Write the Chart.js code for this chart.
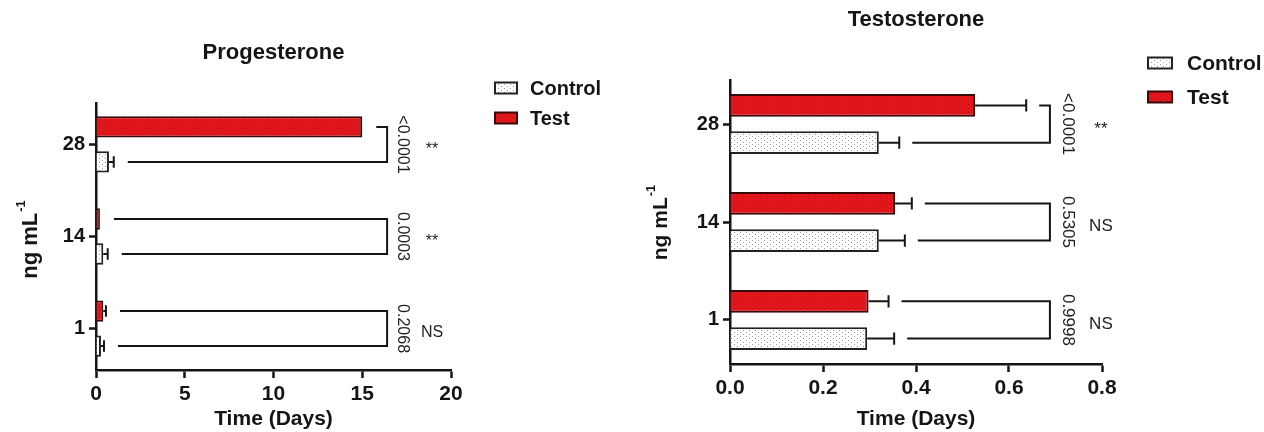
<!DOCTYPE html>
<html>
<head>
<meta charset="utf-8">
<script src="https://cdn.jsdelivr.net/npm/chart.js@4.4.1/dist/chart.umd.min.js"></script>
<style>
    html, body { margin: 0; padding: 0; background: #fff; }
    body { width: 1264px; height: 432px; position: relative; overflow: hidden; }
    .panel { position: absolute; top: 0; width: 632px; height: 432px; }
</style>
</head>
<body>
<div class="panel" style="left:0"><canvas id="grafikProgesteron" width="632" height="432"></canvas></div>
<div class="panel" style="left:632px"><canvas id="grafikTestosteron" width="632" height="432"></canvas></div>
<script>
// Kategori (hari), urut dari bawah ke atas
const days = ['1', '14', '28'];

// Progesterone
const progTest = [0.41, 0.22, 15.0];
const progTestErr = [0.15, 0, 0];
const progControl = [0.28, 0.41, 0.73];
const progControlErr = [0.17, 0.25, 0.27];
const progP = ['0.2068', '0.0003', '<0.0001'];
const progSig = ['NS', '**', '**'];
const progXTicks = [0, 5, 10, 15, 20];

// Testosterone
const testoTest = [0.298, 0.355, 0.527];
const testoTestErr = [0.043, 0.036, 0.11];
const testoControl = [0.295, 0.32, 0.32];
const testoControlErr = [0.058, 0.056, 0.044];
const testoP = ['0.9998', '0.5305', '<0.0001'];
const testoSig = ['NS', 'NS', '**'];
const testoXTicks = [0, 0.2, 0.4, 0.6, 0.8];

const FONT = "'Liberation Sans', Arial, sans-serif";
const INK = '#151515';

function dotPattern(bg, dot, sx, sy) {
    const c = document.createElement('canvas');
    c.width = sx * 2;
    c.height = sy;
    const g = c.getContext('2d');
    g.fillStyle = bg;
    g.fillRect(0, 0, c.width, c.height);
    g.fillStyle = dot;
    g.fillRect(0, 0, 1, 1);
    g.fillRect(sx, Math.floor(sy / 2), 1, 1);
    return g.createPattern(c, 'repeat');
}

const polaTest = dotPattern('#e3161c', '#b30d12', 3, 4);
const polaControl = dotPattern('#ffffff', '#9a9a9a', 3, 4);

// error bar, kurung signifikansi, legend dan judul sumbu y
function anotasi(cfg) {
    return {
        id: 'anotasi',
        afterDatasetsDraw(chart) {
            const ctx = chart.ctx;
            const xs = chart.scales.x;
            const errs = [cfg.testErr, cfg.controlErr];
            const ends = [[], []];
            const mid = [[], []];

            ctx.save();
            ctx.strokeStyle = INK;
            ctx.lineWidth = 2;
            chart.data.datasets.forEach((ds, di) => {
                const meta = chart.getDatasetMeta(di);
                meta.data.forEach((bar, i) => {
                    const v = ds.data[i].x;
                    const xe = xs.getPixelForValue(v + errs[di][i]);
                    ends[di][i] = Math.max(xe, bar.x);
                    mid[di][i] = bar.y;
                    if (errs[di][i] > 0) {
                        const h = bar.height * 0.27;
                        ctx.beginPath();
                        ctx.moveTo(bar.x, bar.y);
                        ctx.lineTo(xe, bar.y);
                        ctx.moveTo(xe, bar.y - h);
                        ctx.lineTo(xe, bar.y + h);
                        ctx.stroke();
                    }
                });
            });

            const xb = xs.getPixelForValue(cfg.bracketAt);
            days.forEach((d, i) => {
                const yTop = mid[0][i];
                const yBot = mid[1][i];
                ctx.beginPath();
                ctx.moveTo(ends[0][i] + cfg.gap, yTop);
                ctx.lineTo(xb, yTop);
                ctx.lineTo(xb, yBot);
                ctx.lineTo(ends[1][i] + cfg.gap, yBot);
                ctx.stroke();

                const yc = (yTop + yBot) / 2;
                ctx.fillStyle = '#222';
                ctx.save();
                ctx.translate(xb + cfg.pDx, yc);
                ctx.rotate(Math.PI / 2);
                ctx.font = cfg.pFont + 'px ' + FONT;
                ctx.textAlign = 'center';
                ctx.textBaseline = 'middle';
                ctx.fillText(cfg.pValues[i], 0, 0);
                ctx.restore();

                const s = cfg.sig[i];
                ctx.font = cfg.pFont + 'px ' + FONT;
                ctx.textAlign = 'center';
                ctx.textBaseline = 'middle';
                ctx.fillText(s, xb + cfg.sigDx, yc + (s === 'NS' ? 4 : 5));
            });
            ctx.restore();
        },
        afterDraw(chart) {
            const ctx = chart.ctx;
            const lg = cfg.legend;
            ctx.save();
            // legend: Control dulu, lalu Test
            const items = chart.data.datasets.slice().reverse();
            items.forEach((ds, k) => {
                const cy = lg.y + k * lg.row;
                ctx.fillStyle = ds.backgroundColor;
                ctx.fillRect(lg.x, cy - lg.h / 2, lg.w, lg.h);
                ctx.strokeStyle = ds.borderColor;
                ctx.lineWidth = 2;
                ctx.strokeRect(lg.x, cy - lg.h / 2, lg.w, lg.h);
                ctx.fillStyle = INK;
                ctx.font = 'bold ' + lg.font + 'px ' + FONT;
                ctx.textAlign = 'left';
                ctx.textBaseline = 'middle';
                ctx.fillText(ds.label, lg.textX, cy + 1);
            });

            // judul sumbu y dengan pangkat -1
            const yt = cfg.yTitle;
            ctx.translate(yt.x, yt.y);
            ctx.rotate(-Math.PI / 2);
            ctx.font = 'bold ' + yt.size + 'px ' + FONT;
            const w1 = ctx.measureText('ng mL').width;
            ctx.font = 'bold ' + Math.round(yt.size * 0.6) + 'px ' + FONT;
            const w2 = ctx.measureText('-1').width;
            const x0 = -(w1 + w2) / 2;
            ctx.textAlign = 'left';
            ctx.textBaseline = 'middle';
            ctx.fillStyle = INK;
            ctx.font = 'bold ' + yt.size + 'px ' + FONT;
            ctx.fillText('ng mL', x0, 0);
            ctx.font = 'bold ' + Math.round(yt.size * 0.6) + 'px ' + FONT;
            ctx.fillText('-1', x0 + w1 + 1, -yt.size * 0.45);
            ctx.restore();
        }
    };
}

function renderGrafik(canvasId, cfg) {
    const canvas = document.getElementById(canvasId);
    if (!canvas) return;
    const ctx = canvas.getContext('2d');

    new Chart(ctx, {
        type: 'bar',
        data: {
            datasets: [{
                label: 'Test',
                data: cfg.test.map((v, i) => ({ x: v, y: i })),
                backgroundColor: polaTest,
                borderColor: '#3a0808',
                borderWidth: 2,
                categoryPercentage: 0.76,
                barPercentage: 0.61
            }, {
                label: 'Control',
                data: cfg.control.map((v, i) => ({ x: v, y: i })),
                backgroundColor: polaControl,
                borderColor: '#222222',
                borderWidth: 2,
                categoryPercentage: 0.76,
                barPercentage: 0.61
            }]
        },
        options: {
            indexAxis: 'y',
            responsive: false,
            animation: false,
            events: [],
            layout: {
                padding: { left: 0, right: cfg.padRight, top: 0, bottom: 0 }
            },
            plugins: {
                legend: { display: false },
                tooltip: { enabled: false },
                title: {
                    display: true,
                    text: cfg.title,
                    fullSize: false,
                    color: INK,
                    font: { family: FONT, size: 22, weight: 'bold' },
                    padding: { top: cfg.titleTop, bottom: cfg.titleBottom }
                }
            },
            scales: {
                x: {
                    type: 'linear',
                    min: cfg.xTicks[0],
                    max: cfg.xTicks[cfg.xTicks.length - 1],
                    afterBuildTicks: function (axis) {
                        axis.ticks = cfg.xTicks.map(v => ({ value: v }));
                    },
                    afterFit: function (axis) {
                        axis.height = cfg.xHeight;
                        axis.paddingLeft = 0;
                        axis.paddingRight = 0;
                    },
                    grid: { drawOnChartArea: false, tickLength: 8, tickWidth: 2.5, tickColor: INK },
                    border: { display: true, color: INK, width: 2.5 },
                    ticks: {
                        color: INK,
                        font: { family: FONT, size: 21, weight: 'bold' },
                        padding: 4,
                        maxRotation: 0,
                        autoSkip: false,
                        callback: cfg.xFormat
                    },
                    title: {
                        display: true,
                        text: 'Time (Days)',
                        color: INK,
                        font: { family: FONT, size: 21, weight: 'bold' },
                        padding: { top: 0, bottom: 0 }
                    }
                },
                y: {
                    type: 'linear',
                    min: -0.45,
                    max: 2.45,
                    offset: false,
                    afterBuildTicks: function (axis) {
                        axis.ticks = days.map((d, i) => ({ value: i }));
                    },
                    afterFit: function (axis) {
                        axis.width = cfg.yWidth;
                        axis.paddingTop = 0;
                        axis.paddingBottom = 0;
                    },
                    grid: { offset: false, drawOnChartArea: false, tickLength: 7, tickWidth: 2.5, tickColor: INK },
                    border: { display: true, color: INK, width: 2.5 },
                    ticks: {
                        color: INK,
                        font: { family: FONT, size: 20, weight: 'bold' },
                        padding: 4,
                        autoSkip: false,
                        callback: v => days[v]
                    }
                }
            }
        },
        plugins: [anotasi(cfg)]
    });
}

document.addEventListener('DOMContentLoaded', function () {
    renderGrafik('grafikProgesteron', {
        title: 'Progesterone',
        test: progTest, testErr: progTestErr,
        control: progControl, controlErr: progControlErr,
        pValues: progP, sig: progSig,
        xTicks: progXTicks,
        xFormat: v => String(v),
        padRight: 181, yWidth: 96, xHeight: 62,
        titleTop: 40, titleBottom: 36.6,
        bracketAt: 16.4, gap: 14, pDx: 15, sigDx: 45, pFont: 16,
        legend: { x: 495, y: 88, w: 22, h: 11, textX: 530, row: 30, font: 20 },
        yTitle: { x: 31, y: 240, size: 22 }
    });

    renderGrafik('grafikTestosteron', {
        title: 'Testosterone',
        test: testoTest, testErr: testoTestErr,
        control: testoControl, controlErr: testoControlErr,
        pValues: testoP, sig: testoSig,
        xTicks: testoXTicks,
        xFormat: v => v.toFixed(1),
        padRight: 162, yWidth: 98, xHeight: 68,
        titleTop: 7, titleBottom: 46.6,
        bracketAt: 0.688, gap: 13, pDx: 18, sigDx: 51, pFont: 17,
        legend: { x: 516, y: 63, w: 24, h: 11, textX: 555, row: 34, font: 21 },
        yTitle: { x: 29, y: 223, size: 21 }
    });
});
</script>
</body>
</html>
